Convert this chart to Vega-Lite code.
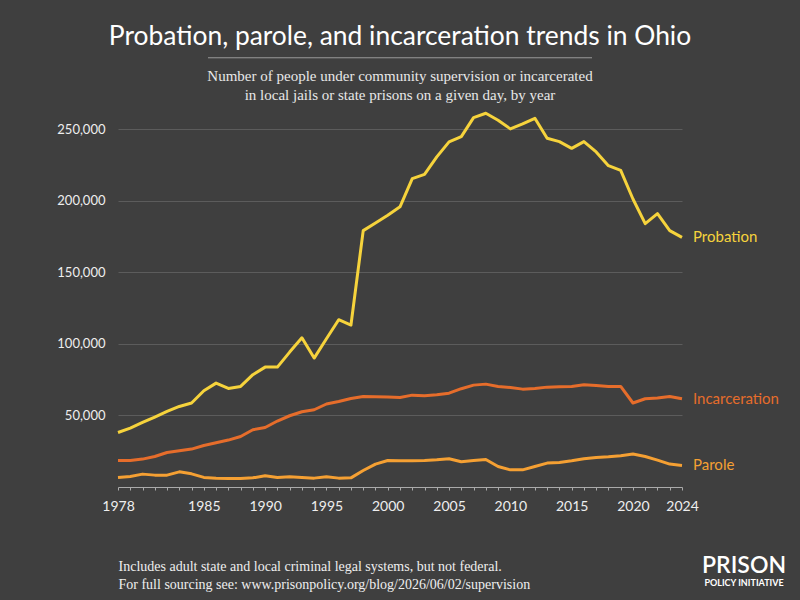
{
  "$schema": "https://vega.github.io/schema/vega-lite/v6.json",
  "width": 564,
  "height": 372,
  "autosize": {"type": "none"},
  "padding": {"left": 118, "top": 115, "right": 118, "bottom": 113},
  "background": "#3f3f3f",
  "config": {"view": {"stroke": null}, "font": "Lato"},
  "title": {
    "text": "Probation, parole, and incarceration trends in Ohio",
    "subtitle": ["Number of people under community supervision or incarcerated", "in local jails or state prisons on a given day, by year"],
    "anchor": "middle",
    "frame": "group",
    "font": "Lato",
    "fontSize": 26.4,
    "fontWeight": "normal",
    "color": "#ffffff",
    "subtitleFont": "Liberation Serif",
    "subtitleFontSize": 15,
    "subtitleColor": "#e8e8e8",
    "subtitlePadding": 19,
    "subtitleLineHeight": 19,
    "offset": -46
  },
  "data": {
    "values": [
      {"year": 1978, "Probation": 38100, "Incarceration": 18500, "Parole": 6700},
      {"year": 1979, "Probation": 41200, "Incarceration": 18500, "Parole": 7400},
      {"year": 1980, "Probation": 45100, "Incarceration": 19500, "Parole": 9000},
      {"year": 1981, "Probation": 48900, "Incarceration": 21300, "Parole": 8300},
      {"year": 1982, "Probation": 52800, "Incarceration": 24100, "Parole": 8300},
      {"year": 1983, "Probation": 56300, "Incarceration": 25300, "Parole": 10600},
      {"year": 1984, "Probation": 58700, "Incarceration": 26500, "Parole": 9200},
      {"year": 1985, "Probation": 67300, "Incarceration": 29000, "Parole": 6700},
      {"year": 1986, "Probation": 72600, "Incarceration": 30900, "Parole": 6200},
      {"year": 1987, "Probation": 68900, "Incarceration": 32800, "Parole": 5900},
      {"year": 1988, "Probation": 70300, "Incarceration": 35300, "Parole": 5900},
      {"year": 1989, "Probation": 78500, "Incarceration": 40000, "Parole": 6400},
      {"year": 1990, "Probation": 83800, "Incarceration": 41600, "Parole": 7800},
      {"year": 1991, "Probation": 83800, "Incarceration": 46100, "Parole": 6700},
      {"year": 1992, "Probation": 94300, "Incarceration": 49800, "Parole": 7100},
      {"year": 1993, "Probation": 104300, "Incarceration": 52600, "Parole": 6700},
      {"year": 1994, "Probation": 90100, "Incarceration": 54000, "Parole": 6200},
      {"year": 1995, "Probation": 103600, "Incarceration": 58000, "Parole": 7100},
      {"year": 1996, "Probation": 116900, "Incarceration": 59800, "Parole": 6200},
      {"year": 1997, "Probation": 113200, "Incarceration": 61900, "Parole": 6400},
      {"year": 1998, "Probation": 179200, "Incarceration": 63300, "Parole": 11500},
      {"year": 1999, "Probation": 184500, "Incarceration": 63100, "Parole": 16000},
      {"year": 2000, "Probation": 189900, "Incarceration": 62900, "Parole": 18500},
      {"year": 2001, "Probation": 195800, "Incarceration": 62600, "Parole": 18300},
      {"year": 2002, "Probation": 215500, "Incarceration": 64200, "Parole": 18400},
      {"year": 2003, "Probation": 218500, "Incarceration": 63800, "Parole": 18600},
      {"year": 2004, "Probation": 230700, "Incarceration": 64500, "Parole": 19000},
      {"year": 2005, "Probation": 241200, "Incarceration": 65600, "Parole": 19700},
      {"year": 2006, "Probation": 244900, "Incarceration": 68700, "Parole": 17600},
      {"year": 2007, "Probation": 258200, "Incarceration": 71200, "Parole": 18500},
      {"year": 2008, "Probation": 261200, "Incarceration": 71900, "Parole": 19250},
      {"year": 2009, "Probation": 256300, "Incarceration": 70300, "Parole": 14350},
      {"year": 2010, "Probation": 250300, "Incarceration": 69600, "Parole": 12000},
      {"year": 2011, "Probation": 253800, "Incarceration": 68400, "Parole": 12000},
      {"year": 2012, "Probation": 257700, "Incarceration": 68900, "Parole": 14350},
      {"year": 2013, "Probation": 243700, "Incarceration": 69800, "Parole": 16700},
      {"year": 2014, "Probation": 241400, "Incarceration": 70100, "Parole": 17150},
      {"year": 2015, "Probation": 236700, "Incarceration": 70300, "Parole": 18300},
      {"year": 2016, "Probation": 241400, "Incarceration": 71500, "Parole": 19700},
      {"year": 2017, "Probation": 234200, "Incarceration": 71000, "Parole": 20650},
      {"year": 2018, "Probation": 224600, "Incarceration": 70300, "Parole": 21100},
      {"year": 2019, "Probation": 221300, "Incarceration": 70300, "Parole": 21800},
      {"year": 2020, "Probation": 201300, "Incarceration": 58700, "Parole": 23000},
      {"year": 2021, "Probation": 184100, "Incarceration": 61700, "Parole": 21350},
      {"year": 2022, "Probation": 191100, "Incarceration": 62200, "Parole": 18800},
      {"year": 2023, "Probation": 179200, "Incarceration": 63300, "Parole": 16000},
      {"year": 2024, "Probation": 174500, "Incarceration": 61700, "Parole": 15050}
    ]
  },
  "transform": [{"fold": ["Probation", "Incarceration", "Parole"], "as": ["series", "value"]}],
  "resolve": {"axis": {"x": "independent", "y": "independent"}},
  "layer": [
    {
      "mark": {"type": "line", "strokeWidth": 3, "strokeJoin": "round"},
      "encoding": {
        "x": {
          "field": "year", "type": "quantitative",
          "scale": {"domain": [1978, 2024], "nice": false, "zero": false},
          "axis": {
            "values": [1978,1979,1980,1981,1982,1983,1984,1985,1986,1987,1988,1989,1990,1991,1992,1993,1994,1995,1996,1997,1998,1999,2000,2001,2002,2003,2004,2005,2006,2007,2008,2009,2010,2011,2012,2013,2014,2015,2016,2017,2018,2019,2020,2021,2022,2023,2024],
            "labelExpr": "indexof([1978,1985,1990,1995,2000,2005,2010,2015,2020,2024], datum.value) >= 0 ? datum.label : ''",
            "format": "d",
            "labelOverlap": false,
            "labelFlush": false,
            "labelFont": "Lato",
            "labelFontSize": 14,
            "labelColor": "#eeeeee",
            "labelPadding": 9,
            "tickSize": 3,
            "tickColor": "#aaaaaa",
            "domainColor": "#aaaaaa",
            "grid": false,
            "title": ["Includes adult state and local criminal legal systems, but not federal.", "For full sourcing see: www.prisonpolicy.org/blog/2026/06/02/supervision"],
            "titleFont": "Liberation Serif",
            "titleFontSize": 14,
            "titleFontWeight": "normal",
            "titleColor": "#eeeeee",
            "titleAnchor": "start",
            "titleAlign": "left",
            "titleLineHeight": 18,
            "titlePadding": 46
          }
        },
        "y": {
          "field": "value", "type": "quantitative",
          "scale": {"domain": [0, 260000], "nice": false},
          "axis": {
            "values": [50000, 100000, 150000, 200000, 250000],
            "format": ",d",
            "grid": true,
            "gridColor": "#5c5c5c",
            "gridWidth": 1,
            "domain": false,
            "ticks": false,
            "labelFont": "Lato",
            "labelFontSize": 13,
            "labelColor": "#eeeeee",
            "labelPadding": 13,
            "title": null
          }
        },
        "color": {
          "field": "series", "type": "nominal",
          "scale": {"domain": ["Probation", "Incarceration", "Parole"], "range": ["#f6d33c", "#e66d2b", "#f5a033"]},
          "legend": null
        }
      }
    },
    {
      "transform": [{"filter": "datum.year == 2024"}],
      "mark": {"type": "text", "align": "left", "baseline": "middle", "dx": 11, "font": "Lato", "fontSize": 15},
      "encoding": {
        "x": {"field": "year", "type": "quantitative", "axis": null},
        "y": {"field": "value", "type": "quantitative", "axis": null},
        "text": {"field": "series"},
        "color": {"field": "series", "type": "nominal", "legend": null}
      }
    },
    {
      "data": {"values": [{}]},
      "transform": [],
      "mark": {"type": "rule", "color": "#9a9a9a", "strokeWidth": 1},
      "encoding": {
        "x": {"datum": 1985.34, "type": "quantitative", "axis": null},
        "x2": {"datum": 2016.66},
        "y": {"datum": 300000, "type": "quantitative", "axis": null}
      }
    },
    {
      "data": {"values": [{}]},
      "transform": [],
      "mark": {"type": "text", "align": "center", "baseline": "alphabetic", "font": "Lato", "fontSize": 23, "fontWeight": 600, "color": "#ffffff"},
      "encoding": {
        "x": {"datum": 2029.06, "type": "quantitative", "axis": null},
        "y": {"datum": -60400, "type": "quantitative", "axis": null},
        "text": {"value": "PRISON"}
      }
    },
    {
      "data": {"values": [{}]},
      "transform": [],
      "mark": {"type": "text", "align": "center", "baseline": "alphabetic", "font": "Lato", "fontSize": 9, "fontWeight": "bold", "color": "#ffffff"},
      "encoding": {
        "x": {"datum": 2029.06, "type": "quantitative", "axis": null},
        "y": {"datum": -69500, "type": "quantitative", "axis": null},
        "text": {"value": "POLICY INITIATIVE"}
      }
    }
  ]
}
